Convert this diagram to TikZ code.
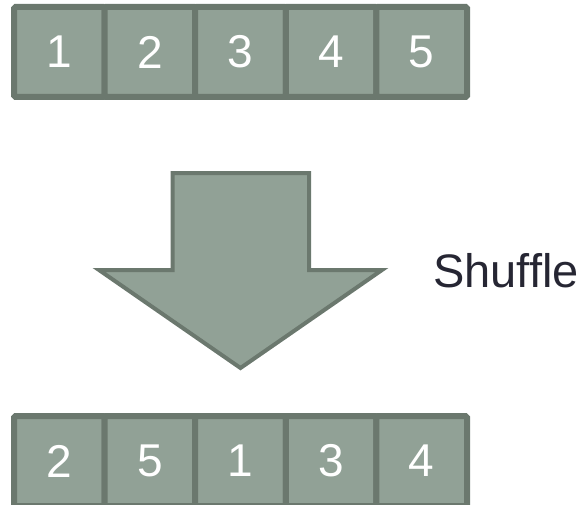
\documentclass[tikz,border=0pt]{standalone}
\usepackage{fontspec}
\setmainfont{Liberation Sans}
\definecolor{boxfill}{HTML}{91A196}
\definecolor{boxline}{HTML}{6B786E}
\definecolor{textdark}{HTML}{262633}

\begin{document}
\begin{tikzpicture}[x=1pt,y=-1pt,
  cell/.style={draw=boxline,fill=boxfill,line width=6pt,rounded corners=1.5pt,
    minimum width=90.6pt,minimum height=90pt,inner sep=0pt,
    text=white,font=\fontsize{46}{46}\selectfont}]
  \useasboundingbox (0,0) rectangle (580,505);
  \node[cell] (A-1) at (59.3,52) {1};
  \node[cell] (A-2) at (149.9,52) {2};
  \node[cell] (A-3) at (240.5,52) {3};
  \node[cell] (A-4) at (331.1,52) {4};
  \node[cell] (A-5) at (421.7,52) {5};
  \draw[draw=boxline,fill=boxfill,line width=4pt,line join=miter]
    (172.5,173) -- (309,173) -- (309,270) -- (382,270) -- (240.5,368)
    -- (99,270) -- (172.5,270) -- cycle;
  \node[anchor=base west,inner sep=0pt,text=textdark,font=\fontsize{47}{47}\selectfont] (shuffle) at (433,287) {Shuffle};
  \node[cell] (B-1) at (59.3,461) {2};
  \node[cell] (B-2) at (149.9,461) {5};
  \node[cell] (B-3) at (240.5,461) {1};
  \node[cell] (B-4) at (331.1,461) {3};
  \node[cell] (B-5) at (421.7,461) {4};
\end{tikzpicture}
\end{document}
